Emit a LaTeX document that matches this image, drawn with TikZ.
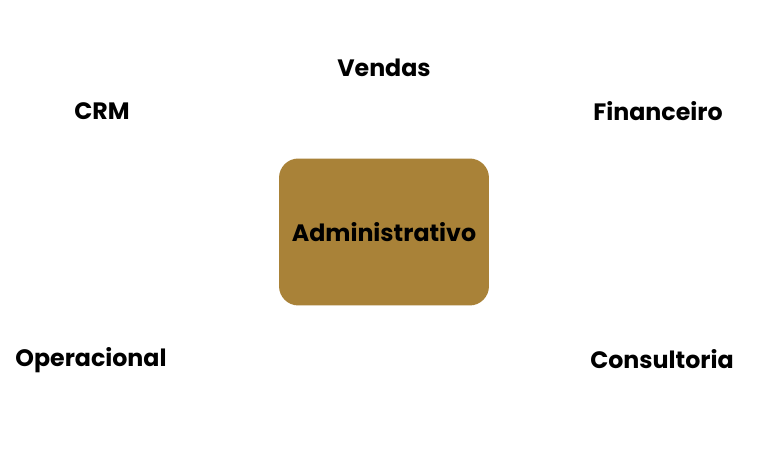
\documentclass[tikz,border=0pt]{standalone}
\usepackage{fontspec}
\setmainfont{Poppins}
\usepackage{tikz}
\usetikzlibrary{positioning}
\definecolor{ouro}{HTML}{A98238}

\tikzset{
  area/.style={font=\fontsize{13.5}{16}\selectfont\bfseries, text=black},
  centro/.style={area, fill=ouro, rounded corners=11pt, inner sep=1pt, minimum width=4.2cm, minimum height=2.94cm}
}

\begin{document}
\begin{tikzpicture}[x=0.02cm,y=-0.02cm]
  \useasboundingbox[fill=white] (0,0) rectangle (768,465);
  \node[centro] (adm) at (384,232) {Administrativo};
  \node[area] (vendas) at (384,68) {Vendas};
  \node[area] (crm) at (102,111) {CRM};
  \node[area] (fin) at (658,111) {Financeiro};
  \node[area] (oper) at (91,360) {Operacional};
  \node[area] (cons) at (662,359) {Consultoria};
\end{tikzpicture}
\end{document}
